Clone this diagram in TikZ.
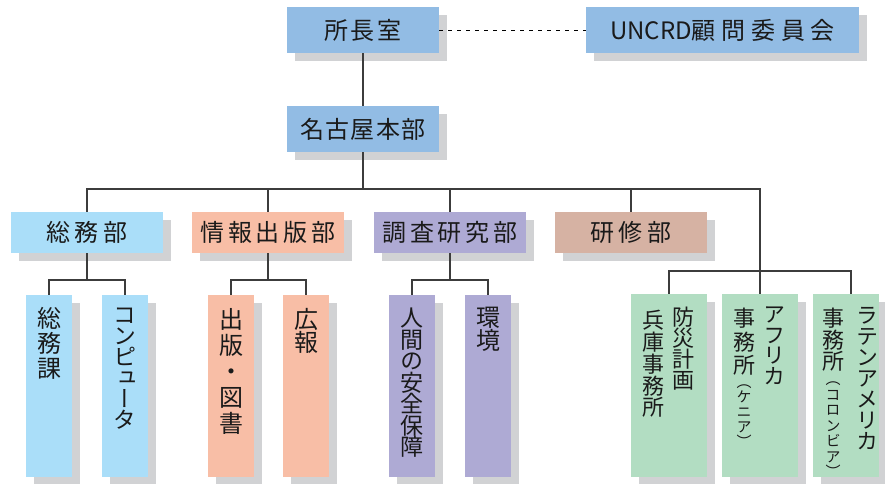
\documentclass[tikz,border=0pt]{standalone}
\usepackage{fontspec}
\setmainfont{Noto Sans CJK JP}
\newfontfamily\vjp[RawFeature=+vert]{Noto Sans CJK JP}
\usetikzlibrary{shadows}
\definecolor{topblue}{HTML}{92BCE4}
\definecolor{skyblue}{HTML}{AADEF9}
\definecolor{salmon}{HTML}{F8BEA6}
\definecolor{lavender}{HTML}{AEAAD4}
\definecolor{rosebrown}{HTML}{D6B2A3}
\definecolor{mint}{HTML}{B2DDC2}
\definecolor{shadowc}{HTML}{D1D2D4}
\definecolor{linec}{HTML}{3C3C3C}
\definecolor{txt}{HTML}{1A1A1A}
\newcommand\hfnt[2]{\fontsize{#1}{#1}\selectfont\addfontfeature{LetterSpace=#2}}
\newcommand\vfnt[2]{\vjp\fontsize{#1}{#2}\selectfont\lineskiplimit=-100pt\relax}
\begin{document}
\begin{tikzpicture}[x=1pt,y=-1pt,
  box/.style={rectangle, inner sep=0pt, text=txt,
    general shadow={fill=shadowc, shadow xshift=8pt, shadow yshift=-8pt}},
  topbox/.style={box, fill=topblue, minimum width=152pt, minimum height=46pt},
  deptbox/.style={box, minimum width=152pt, minimum height=41pt},
  subbox/.style={box, minimum width=46pt, minimum height=182pt},
  offbox/.style={box, fill=mint, minimum width=76pt, minimum height=183pt},
  vt/.style={anchor=north, inner sep=0pt, align=center, text=txt},
  conn/.style={draw=linec, line width=1.3pt},
  dashline/.style={draw=black, line width=1pt, dash pattern=on 4pt off 5pt}
]
\useasboundingbox (0,0) rectangle (885,483);
\fill[white] (0,0) rectangle (885,483);
\clip (0,0) rectangle (885,483);

% top level
\node[topbox] (dir) at (363,30) {\hfnt{24}{11}所長室};
\node[topbox, minimum width=273pt] (uncrd) at (722.5,30)
  {\fontsize{24}{24}\selectfont UNCRD{\addfontfeature{LetterSpace=24}顧問委員会}};
\node[topbox] (hq) at (363,129) {\hfnt{24}{6}名古屋本部};

% departments
\node[deptbox, fill=skyblue] (d1) at (87,232.5) {\hfnt{24}{20}総務部};
\node[deptbox, fill=salmon] (d2) at (268,232.5) {\hfnt{24}{16}情報出版部};
\node[deptbox, fill=lavender] (d3) at (450,232.5) {\hfnt{24}{16}調査研究部};
\node[deptbox, fill=rosebrown] (d4) at (631,232.5) {\hfnt{24}{20}研修部};

% sections
\node[subbox, fill=skyblue] (s1) at (49,386) {};
\node[subbox, fill=skyblue] (s2) at (125,386) {};
\node[subbox, fill=salmon] (s3) at (231,386) {};
\node[subbox, fill=salmon] (s4) at (306,386) {};
\node[subbox, fill=lavender] (s5) at (412,386) {};
\node[subbox, fill=lavender] (s6) at (488,386) {};

% offices
\node[offbox] (g1) at (669,385.5) {};
\node[offbox] (g2) at (760,385.5) {};
\node[offbox, minimum width=66pt] (g3) at (846,385.5) {};

% vertical texts
\node[vt, font=\vfnt{24}{25}] (t1) at (49,307) {総\\務\\課};
\node[vt, font=\vfnt{23}{21}] (t2) at (125,308) {コ\\ン\\ピ\\ュ\\ー\\タ};
\node[vt, font=\vfnt{24}{26}] (t3) at (231,308) {出\\版\\・\\図\\書};
\node[vt, font=\vfnt{24}{23.5}] (t4) at (306,308) {広\\報};
\node[vt, font=\vfnt{23}{21.5}] (t5) at (412,308) {人\\間\\の\\安\\全\\保\\障};
\node[vt, font=\vfnt{24}{23}] (t6) at (488,307) {環\\境};

\node[vt, font=\vfnt{22}{21}] (u1a) at (683,307) {防\\災\\計\\画};
\node[vt, font=\vfnt{22}{21.8}] (u1b) at (653,310) {兵\\庫\\事\\務\\所};
\node[vt, font=\vfnt{22}{20.5}] (u2a) at (774,307) {ア\\フ\\リ\\カ};
\node[vt, font=\vfnt{22}{23.5}] (u2b) at (744,308) {事\\務\\所};
\node[vt, font=\vfnt{15}{15}] (u2c) at (744,385) {（\\ケ\\ニ\\ア\\）};
\node[vt, font=\vfnt{22}{21}] (u3a) at (867,307) {ラ\\テ\\ン\\ア\\メ\\リ\\カ};
\node[vt, font=\vfnt{22}{21.5}] (u3b) at (833,308) {事\\務\\所};
\node[vt, font=\vfnt{15}{15.5}] (u3c) at (833,382) {（\\コ\\ロ\\ン\\ビ\\ア\\）};

% connectors
\draw[dashline] (dir) -- (uncrd);
\draw[conn] (dir) -- (hq);
\coordinate (busR) at (760,189);
\draw[conn] (hq) -- (hq.south |- busR);
\draw[conn] (d1.north) |- (busR) -- (g2.north);
\draw[conn] (d2) -- (d2.north |- busR);
\draw[conn] (d3) -- (d3.north |- busR);
\draw[conn] (d4) -- (d4.north |- busR);
\coordinate (ob) at (851,271);
\draw[conn] (g1.north) |- (ob) -- (ob |- g3.north);

\coordinate (sb1) at (87,280);
\coordinate (sb2) at (268,280);
\coordinate (sb3) at (450,280);
\draw[conn] (d1) -- (sb1);
\draw[conn] (s1.north) |- (sb1) -| (s2.north);
\draw[conn] (d2) -- (sb2);
\draw[conn] (s3.north) |- (sb2) -| (s4.north);
\draw[conn] (d3) -- (sb3);
\draw[conn] (s5.north) |- (sb3) -| (s6.north);
\end{tikzpicture}
\end{document}
